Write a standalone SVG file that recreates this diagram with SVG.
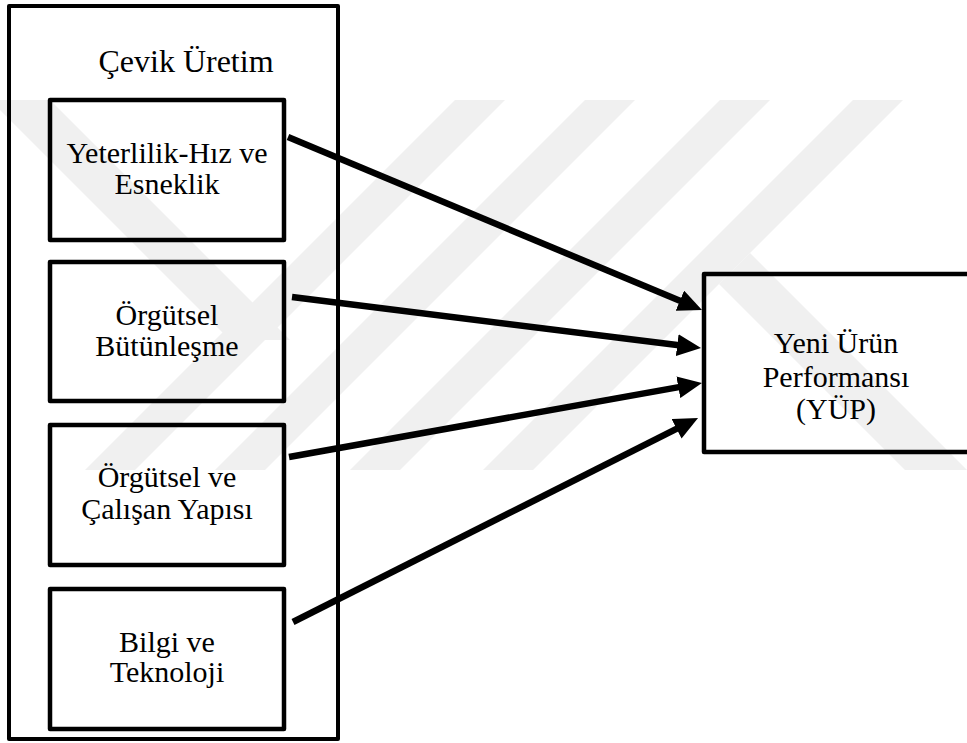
<svg xmlns="http://www.w3.org/2000/svg" width="967" height="743" viewBox="0 0 967 743">
<style>
.box{fill:none;stroke:#000;stroke-width:4.5;stroke-linejoin:round}
.outer{fill:none;stroke:#000;stroke-width:4;stroke-linejoin:round}
text{font-family:'Liberation Serif','DejaVu Serif','Times New Roman',serif;font-size:30px;fill:#000;text-anchor:middle}
.title{font-size:32px}
.wm{fill:#f0f0f0}
.arrow{stroke:#000;stroke-width:6.5;fill:none;marker-end:url(#ah)}
</style>
<defs>
<marker id="ah" markerUnits="userSpaceOnUse" markerWidth="26" markerHeight="22" refX="2" refY="11" orient="auto">
<path d="M0,0 L24,11 L0,22 z" fill="#000"/>
</marker>
</defs>
<rect width="967" height="743" fill="#fff"/>
<g id="watermark">
<polygon class="wm" points="-10,100 50,100 290,340 230,340"/>
<polygon class="wm" points="455,100 505,100 135,470 85,470"/>
<polygon class="wm" points="585,100 635,100 265,470 215,470"/>
<polygon class="wm" points="720,100 770,100 400,470 350,470"/>
<polygon class="wm" points="853,100 903,100 533,470 483,470"/>
<polygon class="wm" points="750,253 967,470 905,470 719,284"/>
</g>
<g id="cevik-uretim">
<rect class="outer" x="9" y="6" width="329" height="733"/>
<text class="title" x="186" y="72">Çevik Üretim</text>
</g>
<g id="yeterlilik">
<rect class="box" x="50" y="100" width="234" height="140"/>
<text x="167" y="163">Yeterlilik-Hız ve</text>
<text x="167" y="194">Esneklik</text>
</g>
<g id="orgutsel-butunlesme">
<rect class="box" x="50" y="262" width="234" height="139"/>
<text x="167" y="325">Örgütsel</text>
<text x="167" y="356">Bütünleşme</text>
</g>
<g id="orgutsel-calisan">
<rect class="box" x="50" y="425" width="234" height="140"/>
<text x="167" y="487">Örgütsel ve</text>
<text x="167" y="519">Çalışan Yapısı</text>
</g>
<g id="bilgi-teknoloji">
<rect class="box" x="50" y="589" width="234" height="140"/>
<text x="167" y="652">Bilgi ve</text>
<text x="167" y="682">Teknoloji</text>
</g>
<g id="yup">
<rect class="box" x="704" y="274" width="266" height="178"/>
<text x="836" y="353">Yeni Ürün</text>
<text x="836" y="387">Performansı</text>
<text x="836" y="419">(YÜP)</text>
</g>
<g id="connectors">
<line class="arrow" x1="288" y1="137" x2="681.7" y2="301.5"/>
<line class="arrow" x1="292" y1="297" x2="679.2" y2="345.3"/>
<line class="arrow" x1="289" y1="457" x2="680.3" y2="386.9"/>
<line class="arrow" x1="293" y1="622" x2="678.4" y2="427.9"/>
</g>
</svg>
